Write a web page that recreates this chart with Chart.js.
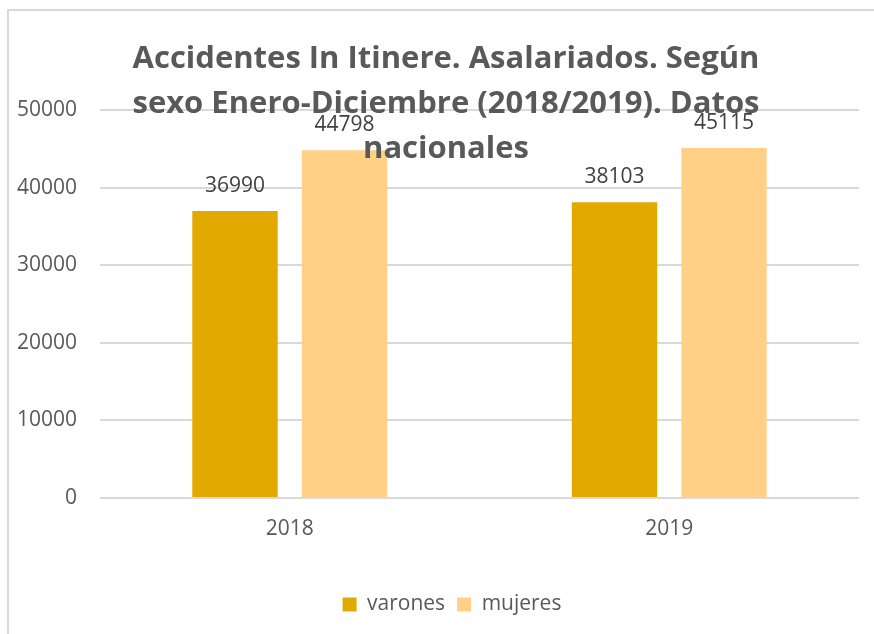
<!DOCTYPE html>
<html>
<head>
<meta charset="utf-8">
<script src="https://cdn.jsdelivr.net/npm/chart.js@4"></script>
<style>
  body { margin: 0; background: #fff; }
  #wrap { position: relative; width: 874px; height: 634px; overflow: hidden; }
  #frame {
    position: absolute; left: 7px; top: 9px; width: 900px; height: 700px;
    border-top: 2px solid #d9d9d9; border-left: 2px solid #d9d9d9;
  }
  #box { position: absolute; left: 0; top: 0; width: 874px; height: 634px; }
</style>
</head>
<body>
<div id="wrap">
  <div id="frame"></div>
  <div id="box"><canvas id="theChart"></canvas></div>
</div>
<script>
const YEARS = ["2018", "2019"];
const VARONES = [36990, 38103];
const MUJERES = [44798, 45115];
const Y_TICKS = [0, 10000, 20000, 30000, 40000, 50000];
const TITLE_LINES = [
  "Accidentes In Itinere. Asalariados. Según",
  "sexo Enero-Diciembre (2018/2019). Datos",
  "nacionales",
];

const COLORS = {
  varones: "#E2A900",
  mujeres: "#FFD086",
  text: "#595959",
  label: "#404040",
  grid: "#d9d9d9",
};

const BODY_FONT = "'Open Sans', sans-serif";

// value labels above each bar
const barLabels = {
  id: "barLabels",
  afterDatasetsDraw(chart) {
    const ctx = chart.ctx;
    ctx.save();
    ctx.font = "21px " + BODY_FONT;
    ctx.fillStyle = COLORS.label;
    ctx.textAlign = "center";
    ctx.textBaseline = "middle";
    chart.data.datasets.forEach((ds, i) => {
      chart.getDatasetMeta(i).data.forEach((bar, j) => {
        ctx.fillText(String(ds.data[j]), bar.x, bar.y - 25);
      });
    });
    ctx.restore();
  },
};

// title drawn over the plot, like the original
const overlayTitle = {
  id: "overlayTitle",
  afterDraw(chart) {
    const ctx = chart.ctx;
    ctx.save();
    ctx.font = "bold 31px 'Open Sans', sans-serif";
    ctx.fillStyle = COLORS.text;
    ctx.textAlign = "center";
    ctx.textBaseline = "middle";
    TITLE_LINES.forEach((line, i) => {
      ctx.fillText(line, 446, 59 + i * 45);
    });
    ctx.restore();
  },
};

// the original legend sits a bit right of centre
const legendShift = {
  id: "legendShift",
  afterLayout(chart) {
    if (chart.legend) chart.legend.left += 45;
  },
};

const data = {
  labels: YEARS,
  datasets: [
    {
      label: "varones",
      data: VARONES,
      backgroundColor: COLORS.varones,
      categoryPercentage: 0.577,
      barPercentage: 0.78,
    },
    {
      label: "mujeres",
      data: MUJERES,
      backgroundColor: COLORS.mujeres,
      categoryPercentage: 0.577,
      barPercentage: 0.78,
    },
  ],
};

const config = {
  type: "bar",
  data: data,
  plugins: [barLabels, overlayTitle, legendShift],
  options: {
    responsive: true,
    maintainAspectRatio: false,
    animation: false,
    layout: {
      padding: { top: 110, right: 15, bottom: 9, left: 0 },
    },
    plugins: {
      title: { display: false },
      tooltip: { enabled: false },
      legend: {
        position: "bottom",
        labels: {
          boxWidth: 14,
          boxHeight: 14,
          padding: 12,
          color: COLORS.text,
          font: { family: BODY_FONT, size: 21 },
        },
      },
    },
    scales: {
      x: {
        grid: { display: false, drawTicks: false },
        border: { display: false },
        ticks: {
          color: COLORS.text,
          padding: 18,
          font: { family: BODY_FONT, size: 21 },
        },
        afterFit(scale) {
          scale.height = 84;
        },
      },
      y: {
        min: 0,
        max: 50000,
        afterBuildTicks(scale) {
          scale.ticks = Y_TICKS.map((v) => ({ value: v }));
        },
        grid: { color: COLORS.grid, lineWidth: 2, drawTicks: false },
        border: { display: false },
        ticks: {
          color: COLORS.text,
          padding: 23,
          font: { family: BODY_FONT, size: 21 },
          callback: (v) => String(v),
        },
        afterFit(scale) {
          scale.width = 100;
        },
      },
    },
  },
};

const theChart = new Chart(document.getElementById("theChart"), config);
</script>
</body>
</html>
